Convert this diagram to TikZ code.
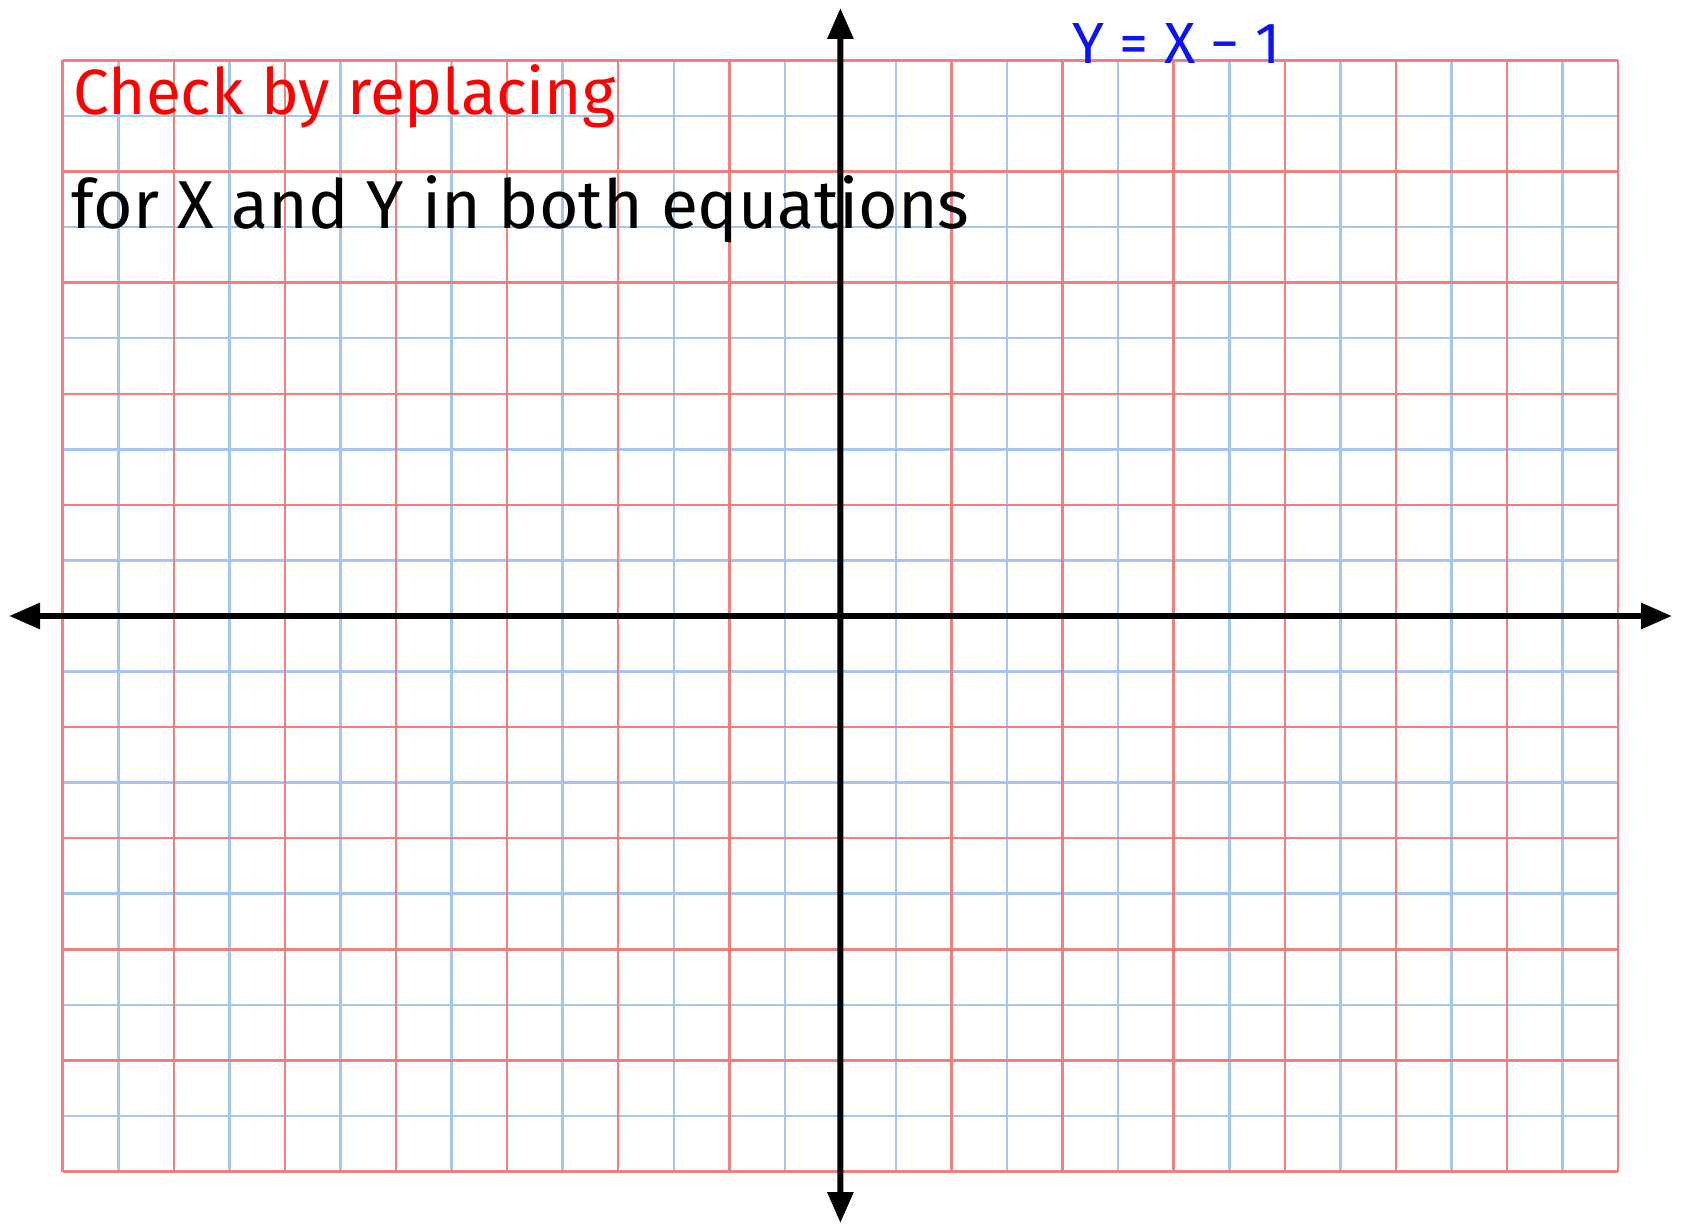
\documentclass[tikz,border=0pt]{standalone}
\usepackage{fontspec}
\setmainfont{Fira Sans}
\usetikzlibrary{arrows.meta}
\definecolor{gridred}{RGB}{240,128,128}
\definecolor{gridblue}{RGB}{164,198,238}
\definecolor{inkred}{RGB}{255,0,0}
\definecolor{inkblue}{RGB}{10,20,245}
\tikzset{
  minorline/.style={draw=gridblue, line width=1.25pt},
  majorline/.style={draw=gridred, line width=1.25pt},
  axisline/.style={draw=black, line width=3pt, -{Triangle[length=15.5pt,width=12.5pt]}},
  hand/.style={inner sep=0pt, anchor=base west}
}
\begin{document}
\begin{tikzpicture}[x=0.5pt,y=-0.5pt]
\useasboundingbox (0,0) rectangle (1694,1224);
\fill[white] (0,0) rectangle (1694,1224);
% grid: 28 x 20 cells, cell = 55.55 px, origin (62.7,60.5)
\def\gl{62.7}\def\gt{60.5}\def\gc{55.55}
% minor (blue) lines
\foreach \i in {1,3,...,27} \draw[minorline] (\gl+\i*\gc,\gt) -- (\gl+\i*\gc,\gt+20*\gc);
\foreach \j in {1,3,...,19} \draw[minorline] (\gl,\gt+\j*\gc) -- (\gl+28*\gc,\gt+\j*\gc);
% major (red) lines
\foreach \i in {0,2,...,28} \draw[majorline] (\gl+\i*\gc,\gt) -- (\gl+\i*\gc,\gt+20*\gc);
\foreach \j in {0,2,...,20} \draw[majorline] (\gl,\gt+\j*\gc) -- (\gl+28*\gc,\gt+\j*\gc);
% axes
\coordinate (O) at (\gl+14*\gc,\gt+10*\gc);
\coordinate (xl) at (9,616);
\coordinate (xr) at (1672,616);
\coordinate (yt) at (840.4,8);
\coordinate (yb) at (840.4,1223);
\draw[axisline] (O) -- (xr);
\draw[axisline] (O) -- (xl);
\draw[axisline] (O) -- (yt);
\draw[axisline] (O) -- (yb);
% texts
\node[hand, text=inkred] (check) at (73,115) {\resizebox{271pt}{!}{\fontseries{m}\selectfont Check by replacing}};
\node[hand, text=black] (forxy) at (71,229) {\resizebox{449pt}{!}{for X and Y in both equations}};
\node[hand, text=inkblue] (eq) at (1072,64) {\resizebox{104pt}{!}{Y = X − 1}};
\end{tikzpicture}
\end{document}
